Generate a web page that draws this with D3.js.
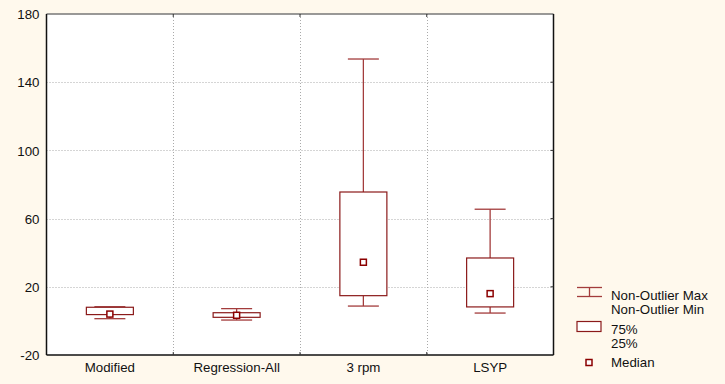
<!DOCTYPE html>
<html lang="en">
<head>
  <meta charset="UTF-8">
  <title>Box Plot</title>
  <style>
    body { margin: 0; background: #fff9ed; }
    text { font-family: "Liberation Sans", Arial, sans-serif; font-size: 13.3px; fill: #111; }
  </style>
</head>
<body>
  <svg id="svg" width="725" height="384"></svg>

  <script src="https://d3js.org/d3.v7.min.js"></script>
  <script>
    // values
    const categories = ['Modified', 'Regression-All', '3 rpm', 'LSYP']
    const whiskerMax = [8.3, 7.2, 153.6, 65.5]
    const q3 = [8.0, 4.8, 75.6, 36.9]
    const medians = [4.0, 3.3, 34.4, 16.0]
    const q1 = [3.7, 2.1, 14.8, 8.2]
    const whiskerMin = [1.3, 0.5, 8.7, 4.6]
    const yTicks = [-20, 20, 60, 100, 140, 180]

    const data = categories.map((c, i) => ({
      name: c, max: whiskerMax[i], q3: q3[i], med: medians[i], q1: q1[i], min: whiskerMin[i]
    }))

    const margin = { top: 14, left: 46.5, right: 553.5, bottom: 355 }
    const boxColor = '#8b1a1a'
    const whiskColor = '#a33c3c'

    const svg = d3.select('#svg')
    svg.append('rect').attr('width', 725).attr('height', 384).attr('fill', '#fff9ed')

    // x scale
    const xscale = d3.scaleBand()
      .domain(categories)
      .range([margin.left, margin.right])

    // y scale
    const yscale = d3.scaleLinear()
      .domain([-20, 180])
      .range([margin.bottom, margin.top])

    // plot area
    svg.append('rect')
      .attr('x', margin.left).attr('y', margin.top)
      .attr('width', margin.right - margin.left)
      .attr('height', margin.bottom - margin.top)
      .attr('fill', '#fff')

    // grid
    const grid = svg.append('g')
      .attr('stroke', '#aaa')
      .attr('stroke-dasharray', '1,2')
    grid.selectAll('.hg')
      .data(yTicks.slice(1, -1))
      .enter().append('line')
      .attr('x1', margin.left).attr('x2', margin.right)
      .attr('y1', d => Math.round(yscale(d)) + 0.5)
      .attr('y2', d => Math.round(yscale(d)) + 0.5)
    grid.selectAll('.vg')
      .data(categories.slice(1))
      .enter().append('line')
      .attr('x1', d => Math.round(xscale(d)) + 0.5)
      .attr('x2', d => Math.round(xscale(d)) + 0.5)
      .attr('y1', margin.top).attr('y2', margin.bottom)

    // left axis (plain hyphen for negatives, like the original)
    const leftAxis = d3.axisLeft(yscale).tickValues(yTicks).tickSize(0).tickPadding(7)
      .tickFormat(d => String(d))
    const ly = svg.append('g')
      .attr('transform', `translate(${margin.left}, 0)`)
      .call(leftAxis)
    ly.select('.domain').remove()
    ly.selectAll('text').style('font-size', '13.3px').attr('dy', '0.35em')

    // bottom axis
    const bottomAxis = d3.axisBottom(xscale).tickSize(0).tickPadding(8)
    const bx = svg.append('g')
      .attr('transform', `translate(0, ${margin.bottom})`)
      .call(bottomAxis)
    bx.select('.domain').remove()
    bx.selectAll('text').style('font-size', '13.3px')

    // frame
    const frame = svg.append('g').attr('fill', 'none')
    frame.append('line')
      .attr('x1', margin.left).attr('x2', margin.right)
      .attr('y1', margin.top).attr('y2', margin.top)
      .attr('stroke', '#777').attr('stroke-width', 1.5)
    frame.append('line')
      .attr('x1', margin.left).attr('x2', margin.left)
      .attr('y1', margin.top).attr('y2', margin.bottom)
      .attr('stroke', '#111').attr('stroke-width', 1.5)
    frame.append('line')
      .attr('x1', margin.right).attr('x2', margin.right)
      .attr('y1', margin.top).attr('y2', margin.bottom)
      .attr('stroke', '#111').attr('stroke-width', 1.5)
    frame.append('line')
      .attr('x1', margin.left).attr('x2', margin.right)
      .attr('y1', margin.bottom).attr('y2', margin.bottom)
      .attr('stroke', '#111').attr('stroke-width', 1.5)

    // small inner ticks on right/top/bottom
    frame.selectAll('.rt')
      .data(yTicks.slice(1, -1))
      .enter().append('line')
      .attr('x1', margin.right - 3).attr('x2', margin.right)
      .attr('y1', d => yscale(d)).attr('y2', d => yscale(d))
      .attr('stroke', '#333')
    frame.selectAll('.tt')
      .data(categories.slice(1))
      .enter().append('line')
      .attr('x1', d => xscale(d)).attr('x2', d => xscale(d))
      .attr('y1', margin.top).attr('y2', margin.top + 3)
      .attr('stroke', '#333')
    frame.selectAll('.bt')
      .data(categories.slice(1))
      .enter().append('line')
      .attr('x1', d => xscale(d)).attr('x2', d => xscale(d))
      .attr('y1', margin.bottom - 3).attr('y2', margin.bottom)
      .attr('stroke', '#333')

    // boxes
    const boxW = 47
    const capW = 31
    const med = 6
    const boxes = svg.append('g')
      .selectAll('g')
      .data(data)
      .enter().append('g')
      .attr('transform', d => `translate(${xscale(d.name) + xscale.bandwidth() / 2}, 0)`)

    boxes.append('line')
      .attr('x1', 0).attr('x2', 0)
      .attr('y1', d => yscale(d.max)).attr('y2', d => yscale(d.q3))
      .attr('stroke', whiskColor).attr('stroke-width', 1.3)
    boxes.append('line')
      .attr('x1', 0).attr('x2', 0)
      .attr('y1', d => yscale(d.q1)).attr('y2', d => yscale(d.min))
      .attr('stroke', whiskColor).attr('stroke-width', 1.3)
    boxes.append('line')
      .attr('x1', -capW / 2).attr('x2', capW / 2)
      .attr('y1', d => yscale(d.max)).attr('y2', d => yscale(d.max))
      .attr('stroke', whiskColor).attr('stroke-width', 1.3)
    boxes.append('line')
      .attr('x1', -capW / 2).attr('x2', capW / 2)
      .attr('y1', d => yscale(d.min)).attr('y2', d => yscale(d.min))
      .attr('stroke', whiskColor).attr('stroke-width', 1.3)
    boxes.append('rect')
      .attr('x', -boxW / 2).attr('width', boxW)
      .attr('y', d => yscale(d.q3))
      .attr('height', d => yscale(d.q1) - yscale(d.q3))
      .attr('fill', '#fff').attr('stroke', boxColor).attr('stroke-width', 1.2)
    boxes.append('rect')
      .attr('x', -med / 2).attr('width', med)
      .attr('y', d => yscale(d.med) - med / 2).attr('height', med)
      .attr('fill', '#fff').attr('stroke', '#8b0000').attr('stroke-width', 1.5)

    // legend
    const leg = svg.append('g')
    leg.append('line').attr('x1', 577).attr('x2', 602).attr('y1', 287.5).attr('y2', 287.5)
      .attr('stroke', whiskColor).attr('stroke-width', 1.3)
    leg.append('line').attr('x1', 577).attr('x2', 602).attr('y1', 296.5).attr('y2', 296.5)
      .attr('stroke', whiskColor).attr('stroke-width', 1.3)
    leg.append('line').attr('x1', 589.5).attr('x2', 589.5).attr('y1', 287.5).attr('y2', 296.5)
      .attr('stroke', whiskColor).attr('stroke-width', 1.3)
    leg.append('rect').attr('x', 577).attr('y', 321.5).attr('width', 24).attr('height', 10)
      .attr('fill', '#fff').attr('stroke', boxColor).attr('stroke-width', 1.2)
    leg.append('rect').attr('x', 586).attr('y', 359.5).attr('width', 6).attr('height', 6)
      .attr('fill', '#fff').attr('stroke', '#8b0000').attr('stroke-width', 1.5)

    const legText = [
      ['Non-Outlier Max', 299.5], ['Non-Outlier Min', 313.5],
      ['75%', 334], ['25%', 348], ['Median', 367]
    ]
    leg.selectAll('text')
      .data(legText)
      .enter().append('text')
      .attr('x', 611)
      .attr('y', d => d[1])
      .text(d => d[0])
  </script>
</body>
</html>
